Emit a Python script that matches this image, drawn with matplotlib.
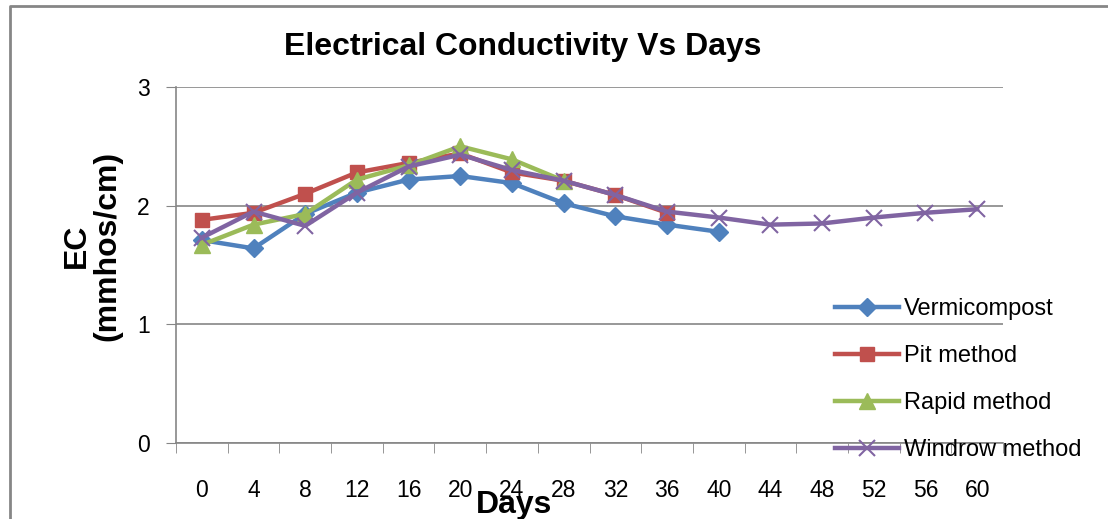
import numpy as np
import matplotlib.pyplot as plt
from matplotlib.lines import Line2D

plt.rcParams['font.family'] = ['Liberation Sans', 'DejaVu Sans']

days = ['0', '4', '8', '12', '16', '20', '24', '28', '32', '36', '40', '44', '48', '52', '56', '60']
vermicompost = [1.71, 1.64, 1.93, 2.11, 2.22, 2.25, 2.19, 2.02, 1.91, 1.84, 1.78]
pit_method = [1.88, 1.94, 2.10, 2.28, 2.36, 2.44, 2.28, 2.21, 2.09, 1.94]
rapid_method = [1.67, 1.84, 1.93, 2.22, 2.34, 2.50, 2.39, 2.21]
windrow_method = [1.73, 1.95, 1.83, 2.11, 2.33, 2.43, 2.30, 2.21, 2.09, 1.95, 1.90, 1.84, 1.85, 1.90, 1.94, 1.97]

series = [
	("Vermicompost", vermicompost, '#4F81BD', 'D', 9),
	("Pit method", pit_method, '#C0504D', 's', 10),
	("Rapid method", rapid_method, '#9BBB59', '^', 11),
	("Windrow method", windrow_method, '#8064A2', 'x', 11),
]

W, H = 1108, 519
fig = plt.figure(figsize=(W/100, H/100), dpi=100)
ax = fig.add_axes([176/W, 1-443/H, (1003-176)/W, (443-87)/H])

for name, vals, col, mk, ms in series:
	x = np.arange(len(vals))
	if mk == 'x':
		ax.plot(x, vals, color=col, lw=3.2, marker=mk, ms=ms, mew=1.5, label=name, zorder=3)
	else:
		ax.plot(x, vals, color=col, lw=3.2, marker=mk, ms=ms, mec=col, label=name, zorder=3)

ax.set_xlim(-0.5, len(days)-0.5)
ax.set_ylim(0, 3)
ax.set_yticks([0, 1, 2, 3])
ax.set_xticks(np.arange(len(days)))
ax.set_xticklabels(days)
ax.set_xticks(np.arange(len(days)+1)-0.5, minor=True)
ax.tick_params(axis='x', which='major', length=0, pad=26, labelsize=16.5)
ax.tick_params(axis='x', which='minor', length=7, color='#868686', direction='out')
ax.tick_params(axis='y', length=7, color='#868686', labelsize=16.5, pad=12)
ax.grid(axis='y', color='#868686', lw=1.2)
ax.set_axisbelow(True)
for s in ['top', 'right']:
	ax.spines[s].set_visible(False)
for s in ['left', 'bottom']:
	ax.spines[s].set_color('#868686')
	ax.spines[s].set_linewidth(1.2)

fig.text(523/W, 1-47/H, 'Electrical Conductivity Vs Days', ha='center', va='center',
		 fontsize=23, fontweight='bold')
fig.text(514/W, 1-505/H, 'Days', ha='center', va='center', fontsize=23, fontweight='bold')
fig.text(92/W, 1-246/H, 'EC\n(mmhos/cm)', ha='center', va='center', rotation=90,
		 fontsize=23, fontweight='bold', linespacing=1.0)

fig.legend(loc='upper left', bbox_to_anchor=(826/W, 1-289/H), frameon=False,
		   fontsize=17, handlelength=2.7, labelspacing=1.05, handletextpad=0.2, borderaxespad=0)

# outer chart border (only left and top visible in the crop)
fig.add_artist(Line2D([10/W, 10/W, 1.0], [0, 1-6/H, 1-6/H], transform=fig.transFigure,
					  color='#868686', lw=2))

fig.savefig('out.png', dpi=100)
